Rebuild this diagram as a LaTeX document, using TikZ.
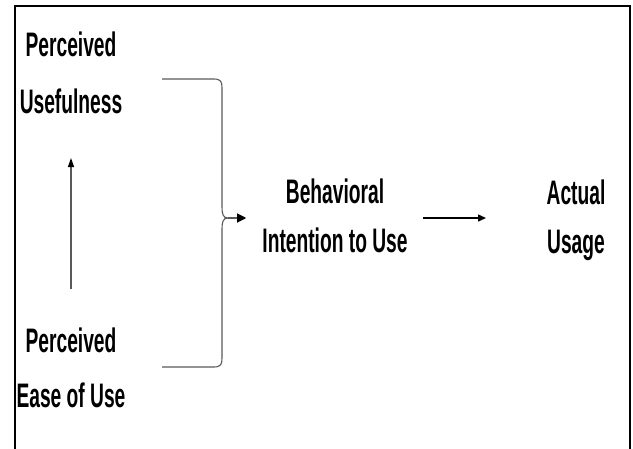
\documentclass[tikz,border=0pt]{standalone}
\usepackage{fontspec}
\setmainfont[FakeStretch=0.565]{Liberation Sans}
\usetikzlibrary{arrows.meta}
\begin{document}
\begin{tikzpicture}[x=1pt,y=-1pt,
  lbl/.style={font=\bfseries\fontsize{34}{49}\selectfont, align=center, inner sep=0pt, anchor=base},
  thinline/.style={draw=black!65, line width=1.1pt},
  tip/.style={-{Triangle[length=8pt,width=7pt]}},
  mainline/.style={draw=black, line width=1.5pt}]
\useasboundingbox (0,0) rectangle (633,448);
\draw[line width=2pt] (15,470) -- (15,6) -- (630,6) -- (630,470);
\node[lbl] (pu) at (71,113) {Perceived\\[8pt]Usefulness};
\node[lbl] (pe) at (71,407) {Perceived\\[6pt]Ease of Use};
\node[lbl] (bi) at (335,252) {Behavioral\\Intention to Use};
\node[lbl] (au) at (576,253) {Actual\\Usage};
\coordinate (bt) at (162,79);
\coordinate (bb) at (162,367);
\coordinate (bm) at (228,218);
\draw[thinline] (bt) -- (214,79) .. controls (221,79) and (222,82) .. (222,88) -- (222,207)
  .. controls (222,214) and (223,218) .. (bm)
  .. controls (223,218) and (222,222) .. (222,229) -- (222,358)
  .. controls (222,364) and (221,367) .. (214,367) -- (bb);
\draw[thinline, -{Triangle[length=9pt,width=9pt,color=black]}] (bm) -- ([xshift=-16pt]bm -| bi.west);
\draw[thinline, -{Triangle[length=9pt,width=6pt,color=black]}] (pe.north |- 0,289) -- (pu.south |- 0,158);
\draw[mainline, tip] ([xshift=15pt]bi.east |- bm) -- (486,218);
\end{tikzpicture}
\end{document}
